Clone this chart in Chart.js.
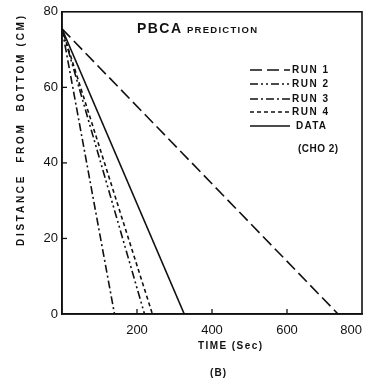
<!DOCTYPE html>
<html>
<head>
<meta charset="utf-8">
<script src="https://cdn.jsdelivr.net/npm/chart.js@4.4.0/dist/chart.umd.min.js"></script>
<style>
  body { margin: 0; background: #fff; }
  canvas { display: block; }
</style>
</head>
<body>
<canvas id="myChart" width="371" height="380"></canvas>
<script>
// series: every run starts at the top and runs straight down to 0
const seriesNames = ['RUN 1', 'RUN 2', 'RUN 3', 'RUN 4', 'DATA'];
const startDist = [75.5, 75.5, 75.5, 75.5, 75.5];   // cm at t = 0
const endTime = [736, 220, 140, 241, 326];          // sec where distance reaches 0
const dashes = [[12, 5], [8, 3, 2, 3, 2, 3], [8, 3, 2, 3], [4, 3], []];

const xTicks = [0, 200, 400, 600, 800];
const yTicks = [0, 20, 40, 60, 80];

const FONT = '"Liberation Sans", Arial, sans-serif';
const INK = '#111';

// put text so it fills a given width (the scan is widely letter-spaced)
function fitText(ctx, text, x, y, width, align) {
    ctx.letterSpacing = '0px';
    const w = ctx.measureText(text).width;
    const n = text.length;
    let sp = n > 1 ? (width - w) / (n - 1) : 0;
    if (sp < 0) sp = 0;
    ctx.letterSpacing = sp + 'px';
    const full = w + sp * n;
    let left = x;
    if (align === 'center') left = x - (full - sp) / 2;
    ctx.textAlign = 'left';
    ctx.fillText(text, left, y);
    ctx.letterSpacing = '0px';
}

const decorations = {
    id: 'decorations',
    afterDraw(chart) {
        const ctx = chart.ctx;
        const a = chart.chartArea;
        const xs = chart.scales.x;
        const ys = chart.scales.y;
        ctx.save();
        ctx.strokeStyle = INK;
        ctx.fillStyle = INK;

        // frame
        ctx.lineWidth = 1.6;
        ctx.strokeRect(a.left, a.top, a.right - a.left, a.bottom - a.top);

        // small inward tick marks
        ctx.lineWidth = 1.3;
        xTicks.slice(1, -1).forEach(v => {
            const px = xs.getPixelForValue(v);
            ctx.beginPath();
            ctx.moveTo(px, a.bottom);
            ctx.lineTo(px, a.bottom - 5);
            ctx.stroke();
        });
        yTicks.slice(1, -1).forEach(v => {
            const py = ys.getPixelForValue(v);
            ctx.beginPath();
            ctx.moveTo(a.left, py);
            ctx.lineTo(a.left + 5, py);
            ctx.stroke();
        });

        // title
        ctx.textBaseline = 'alphabetic';
        ctx.font = 'bold 14px ' + FONT;
        fitText(ctx, 'PBCA', 137, 33, 44, 'left');
        ctx.font = 'bold 9.5px ' + FONT;
        fitText(ctx, 'PREDICTION', 187, 33, 70, 'left');

        // legend inside the plot
        const legendY = [70, 84, 99, 112, 126];
        ctx.textBaseline = 'middle';
        chart.data.datasets.forEach((ds, i) => {
            ctx.setLineDash(ds.borderDash || []);
            ctx.lineWidth = 1.6;
            ctx.beginPath();
            ctx.moveTo(250, legendY[i]);
            ctx.lineTo(290, legendY[i]);
            ctx.stroke();
            ctx.setLineDash([]);
            ctx.font = 'bold 10px ' + FONT;
            fitText(ctx, ds.label, i == 4 ? 296 : 292, legendY[i], i == 4 ? 30 : 36, 'left');
        });
        ctx.font = 'bold 10px ' + FONT;
        fitText(ctx, '(CHO 2)', 298, 149, 40, 'left');

        // axis titles
        ctx.font = 'bold 10px ' + FONT;
        fitText(ctx, 'TIME (Sec)', 230, 346, 64, 'center');
        fitText(ctx, '(B)', 218, 373, 16, 'center');

        ctx.save();
        ctx.translate(21, 131);
        ctx.rotate(-Math.PI / 2);
        fitText(ctx, 'DISTANCE  FROM  BOTTOM (CM)', 0, 0, 230, 'center');
        ctx.restore();

        ctx.restore();
    }
};

const datasets = seriesNames.map((name, i) => ({
    label: name,
    data: [{ x: 0, y: startDist[i] }, { x: endTime[i], y: 0 }],
    borderColor: INK,
    borderWidth: 1.6,
    borderDash: dashes[i],
    pointRadius: 0,
    fill: false,
    tension: 0
}));

const ctx = document.getElementById('myChart').getContext('2d');
const myChart = new Chart(ctx, {
    type: 'line',
    data: { datasets: datasets },
    options: {
        responsive: false,
        animation: false,
        layout: { padding: { top: 11, right: 7, left: 0, bottom: 0 } },
        plugins: {
            legend: { display: false },
            tooltip: { enabled: false }
        },
        scales: {
            x: {
                type: 'linear',
                min: 0,
                max: 800,
                afterFit: s => { s.height = 66; },
                afterBuildTicks: s => { s.ticks = xTicks.map(v => ({ value: v })); },
                grid: { display: false, drawTicks: false },
                border: { display: true, color: INK, width: 1.6 },
                ticks: {
                    align: 'inner',
                    padding: 9,
                    color: INK,
                    font: { family: FONT, size: 13 },
                    callback: v => (v === 0 ? '' : String(v))
                }
            },
            y: {
                type: 'linear',
                min: 0,
                max: 80,
                afterFit: s => { s.width = 62; },
                afterBuildTicks: s => { s.ticks = yTicks.map(v => ({ value: v })); },
                grid: { display: false, drawTicks: false },
                border: { display: true, color: INK, width: 1.6 },
                ticks: {
                    padding: 4,
                    color: INK,
                    font: { family: FONT, size: 13 },
                    callback: v => String(v)
                }
            }
        }
    },
    plugins: [decorations]
});
</script>
</body>
</html>
